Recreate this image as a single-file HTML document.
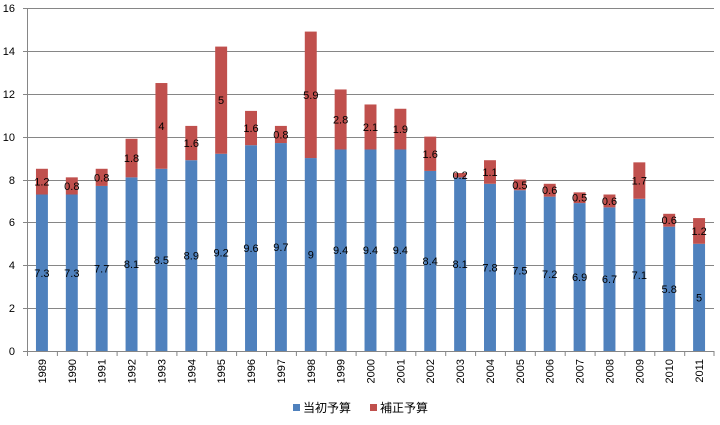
<!DOCTYPE html>
<html><head><meta charset="utf-8"><style>
body{margin:0;background:#fff;}
text{font-family:"Liberation Sans","Noto Sans CJK JP",sans-serif;font-size:11px;fill:#000;}
</style></head><body>
<svg width="720" height="420" xmlns="http://www.w3.org/2000/svg">
<g stroke="#868686" stroke-width="1">
<line x1="23" y1="351.5" x2="714" y2="351.5"/>
<line x1="23" y1="308.5" x2="714" y2="308.5"/>
<line x1="23" y1="265.5" x2="714" y2="265.5"/>
<line x1="23" y1="222.5" x2="714" y2="222.5"/>
<line x1="23" y1="180.5" x2="714" y2="180.5"/>
<line x1="23" y1="137.5" x2="714" y2="137.5"/>
<line x1="23" y1="94.5" x2="714" y2="94.5"/>
<line x1="23" y1="51.5" x2="714" y2="51.5"/>
<line x1="23" y1="8.5" x2="714" y2="8.5"/>
<line x1="27.5" y1="8" x2="27.5" y2="356"/>
</g>
<g stroke="#868686" stroke-width="1">
<path d="M57.4 351v5M87.3 351v5M117.1 351v5M147 351v5M176.9 351v5M206.7 351v5M236.6 351v5M266.5 351v5M296.4 351v5M326.2 351v5M356.1 351v5M386 351v5M415.8 351v5M445.7 351v5M475.6 351v5M505.4 351v5M535.3 351v5M565.2 351v5M595.1 351v5M624.9 351v5M654.8 351v5M684.7 351v5M714 351v5"/>
</g>
<g text-anchor="end">
<text x="15" y="355">0</text><text x="15" y="312">2</text><text x="15" y="269">4</text><text x="15" y="226">6</text><text x="15" y="184">8</text><text x="15" y="141">10</text><text x="15" y="98">12</text><text x="15" y="55">14</text><text x="15" y="12">16</text>
</g>
<g transform="translate(27,351) scale(29.87,-21.4375)">
<g fill="#4f81bd">
<rect x="0.3" y="0" width="0.4" height="7.3"/><rect x="1.3" y="0" width="0.4" height="7.3"/><rect x="2.3" y="0" width="0.4" height="7.7"/><rect x="3.3" y="0" width="0.4" height="8.1"/><rect x="4.3" y="0" width="0.4" height="8.5"/><rect x="5.3" y="0" width="0.4" height="8.9"/><rect x="6.3" y="0" width="0.4" height="9.2"/><rect x="7.3" y="0" width="0.4" height="9.6"/><rect x="8.3" y="0" width="0.4" height="9.7"/><rect x="9.3" y="0" width="0.4" height="9"/><rect x="10.3" y="0" width="0.4" height="9.4"/><rect x="11.3" y="0" width="0.4" height="9.4"/><rect x="12.3" y="0" width="0.4" height="9.4"/><rect x="13.3" y="0" width="0.4" height="8.4"/><rect x="14.3" y="0" width="0.4" height="8.1"/><rect x="15.3" y="0" width="0.4" height="7.8"/><rect x="16.3" y="0" width="0.4" height="7.5"/><rect x="17.3" y="0" width="0.4" height="7.2"/><rect x="18.3" y="0" width="0.4" height="6.9"/><rect x="19.3" y="0" width="0.4" height="6.7"/><rect x="20.3" y="0" width="0.4" height="7.1"/><rect x="21.3" y="0" width="0.4" height="5.8"/><rect x="22.3" y="0" width="0.4" height="5"/>
</g>
<g fill="#c0504d">
<rect x="0.3" y="7.3" width="0.4" height="1.2"/><rect x="1.3" y="7.3" width="0.4" height="0.8"/><rect x="2.3" y="7.7" width="0.4" height="0.8"/><rect x="3.3" y="8.1" width="0.4" height="1.8"/><rect x="4.3" y="8.5" width="0.4" height="4"/><rect x="5.3" y="8.9" width="0.4" height="1.6"/><rect x="6.3" y="9.2" width="0.4" height="5"/><rect x="7.3" y="9.6" width="0.4" height="1.6"/><rect x="8.3" y="9.7" width="0.4" height="0.8"/><rect x="9.3" y="9" width="0.4" height="5.9"/><rect x="10.3" y="9.4" width="0.4" height="2.8"/><rect x="11.3" y="9.4" width="0.4" height="2.1"/><rect x="12.3" y="9.4" width="0.4" height="1.9"/><rect x="13.3" y="8.4" width="0.4" height="1.6"/><rect x="14.3" y="8.1" width="0.4" height="0.2"/><rect x="15.3" y="7.8" width="0.4" height="1.1"/><rect x="16.3" y="7.5" width="0.4" height="0.5"/><rect x="17.3" y="7.2" width="0.4" height="0.6"/><rect x="18.3" y="6.9" width="0.4" height="0.5"/><rect x="19.3" y="6.7" width="0.4" height="0.6"/><rect x="20.3" y="7.1" width="0.4" height="1.7"/><rect x="21.3" y="5.8" width="0.4" height="0.6"/><rect x="22.3" y="5" width="0.4" height="1.2"/>
</g>
</g>
<g text-anchor="middle">
<text x="41.9" y="276.8">7.3</text><text x="71.8" y="276.8">7.3</text><text x="101.7" y="272.5">7.7</text><text x="131.5" y="268.2">8.1</text><text x="161.4" y="263.9">8.5</text><text x="191.3" y="259.6">8.9</text><text x="221.1" y="256.4">9.2</text><text x="251" y="252.1">9.6</text><text x="280.9" y="251">9.7</text><text x="310.8" y="258.5">9</text><text x="340.6" y="254.2">9.4</text><text x="370.5" y="254.2">9.4</text><text x="400.4" y="254.2">9.4</text><text x="430.2" y="265">8.4</text><text x="460.1" y="268.2">8.1</text><text x="490" y="271.4">7.8</text><text x="519.9" y="274.6">7.5</text><text x="549.7" y="277.8">7.2</text><text x="579.6" y="281">6.9</text><text x="609.5" y="283.2">6.7</text><text x="639.3" y="278.9">7.1</text><text x="669.2" y="292.8">5.8</text><text x="699.1" y="301.4">5</text>
<text x="41.9" y="185.6">1.2</text><text x="71.8" y="189.9">0.8</text><text x="101.7" y="181.4">0.8</text><text x="131.5" y="162.1">1.8</text><text x="161.4" y="129.9">4</text><text x="191.3" y="147">1.6</text><text x="221.1" y="104.2">5</text><text x="251" y="132">1.6</text><text x="280.9" y="138.5">0.8</text><text x="310.8" y="98.8">5.9</text><text x="340.6" y="123.5">2.8</text><text x="370.5" y="131">2.1</text><text x="400.4" y="133.1">1.9</text><text x="430.2" y="157.8">1.6</text><text x="460.1" y="179.2">0.2</text><text x="490" y="176">1.1</text><text x="519.9" y="188.9">0.5</text><text x="549.7" y="194.2">0.6</text><text x="579.6" y="201.7">0.5</text><text x="609.5" y="204.9">0.6</text><text x="639.3" y="184.6">1.7</text><text x="669.2" y="224.2">0.6</text><text x="699.1" y="234.9">1.2</text>
</g>
<g text-anchor="end">
<text transform="translate(45.9,359) rotate(-90)">1989</text><text transform="translate(75.8,359) rotate(-90)">1990</text><text transform="translate(105.7,359) rotate(-90)">1991</text><text transform="translate(135.5,359) rotate(-90)">1992</text><text transform="translate(165.4,359) rotate(-90)">1993</text><text transform="translate(195.3,359) rotate(-90)">1994</text><text transform="translate(225.1,359) rotate(-90)">1995</text><text transform="translate(255,359) rotate(-90)">1996</text><text transform="translate(284.9,359) rotate(-90)">1997</text><text transform="translate(314.8,359) rotate(-90)">1998</text><text transform="translate(344.6,359) rotate(-90)">1999</text><text transform="translate(374.5,359) rotate(-90)">2000</text><text transform="translate(404.4,359) rotate(-90)">2001</text><text transform="translate(434.2,359) rotate(-90)">2002</text><text transform="translate(464.1,359) rotate(-90)">2003</text><text transform="translate(494,359) rotate(-90)">2004</text><text transform="translate(523.9,359) rotate(-90)">2005</text><text transform="translate(553.7,359) rotate(-90)">2006</text><text transform="translate(583.6,359) rotate(-90)">2007</text><text transform="translate(613.5,359) rotate(-90)">2008</text><text transform="translate(643.3,359) rotate(-90)">2009</text><text transform="translate(673.2,359) rotate(-90)">2010</text><text transform="translate(703.1,359) rotate(-90)">2011</text>
</g>
<rect x="293" y="404" width="7" height="7" fill="#4f81bd"/>
<text x="303" y="412" style="font-size:12px">当初予算</text>
<rect x="370" y="404" width="7" height="7" fill="#c0504d"/>
<text x="380" y="412" style="font-size:12px">補正予算</text>
</svg>
</body></html>
